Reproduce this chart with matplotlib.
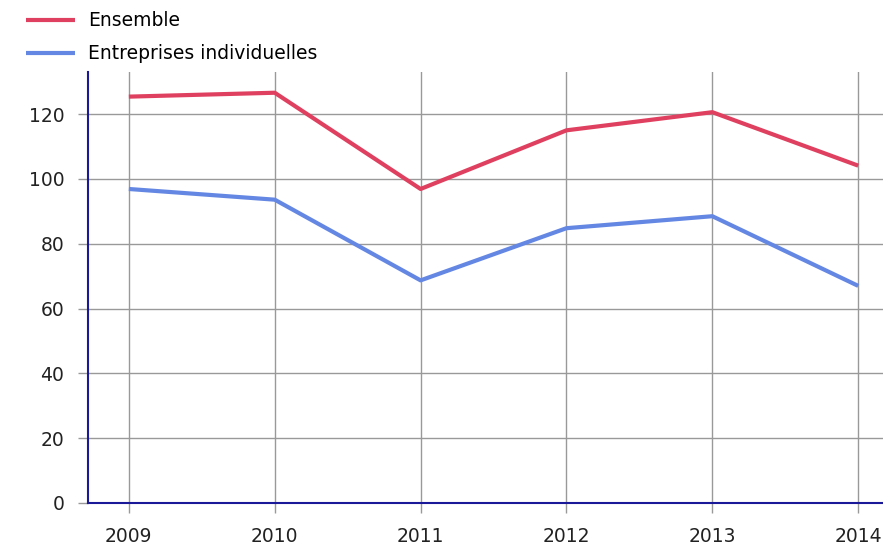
import matplotlib
matplotlib.use("Agg")
import matplotlib.pyplot as plt

years = ["2009", "2010", "2011", "2012", "2013", "2014"]
ensemble = [125.4, 126.6, 96.9, 115.0, 120.6, 104.1]
entreprises = [96.9, 93.6, 68.7, 84.8, 88.5, 67.0]
yticks = [0, 20, 40, 60, 80, 100, 120]

plt.rcParams['font.family'] = ['DejaVu Sans']

fig = plt.figure(figsize=(8.83, 5.46), dpi=100)
ax = fig.add_axes([88/883, 1-503/546, 1-88/883, (503-72)/546])

x = list(range(len(years)))
l1, = ax.plot(x, ensemble, color="#e0405f", lw=3, label="Ensemble", solid_capstyle="butt")
l2, = ax.plot(x, entreprises, color="#6487e3", lw=3, label="Entreprises individuelles", solid_capstyle="butt")

ax.set_xlim(-0.28, 5.17)
ax.set_ylim(0, 133)
ax.set_xticks(x)
ax.set_xticklabels(years)
ax.set_yticks(yticks)
ax.grid(True, color="#999999", lw=1)
ax.set_axisbelow(True)
ax.tick_params(axis="both", colors="#999999", length=7, width=1, labelsize=13.5, labelcolor="#222222")
ax.tick_params(axis="x", pad=10)
ax.tick_params(axis="y", pad=10)
for s in ["top", "right"]:
    ax.spines[s].set_visible(False)
for s in ["left", "bottom"]:
    ax.spines[s].set_color("#1a1a99")
    ax.spines[s].set_linewidth(1.5)

fig.legend(handles=[l1, l2], loc="upper left", bbox_to_anchor=(15/883, 1.0),
           frameon=False, fontsize=13.5, handlelength=2.6, handletextpad=0.7,
           labelspacing=0.75, borderaxespad=0.2)

fig.savefig("out.png", dpi=100)
